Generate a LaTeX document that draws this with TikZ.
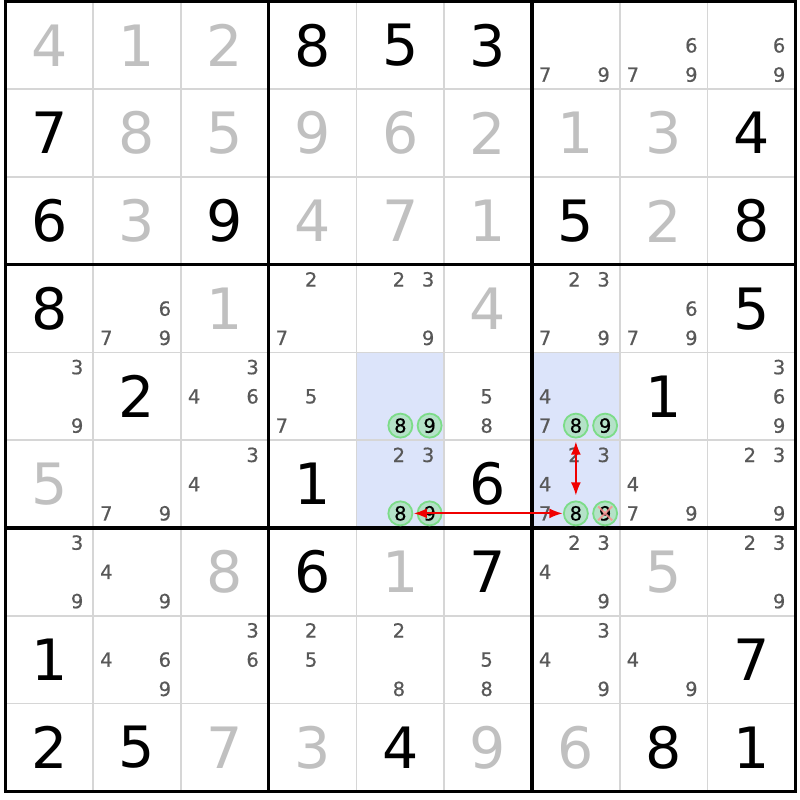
\documentclass[tikz,border=0pt]{standalone}
\usepackage{fontspec}
\setmainfont{DejaVu Sans}
\newfontfamily\pmfont[FakeBold=0.6]{DejaVu Sans}
\usetikzlibrary{arrows.meta}
\definecolor{givenc}{RGB}{0,0,0}
\definecolor{solvedc}{RGB}{192,192,192}
\definecolor{pmc}{RGB}{88,88,88}
\definecolor{hlc}{RGB}{220,228,250}
\definecolor{thinc}{RGB}{214,214,214}
\definecolor{cfill}{RGB}{180,226,200}
\definecolor{cdraw}{RGB}{124,220,136}
\definecolor{arrc}{RGB}{240,0,0}
\newcommand\bigd[4]{\node[bigdigit,text=#4] (b#1#2) at ({5.5+87.75*(#2-0.5)},{1.5+87.75*(#1-0.5)}) {#3};}
\newcommand\pmark[3]{%
  \pgfmathtruncatemacro\prr{int((#3-1)/3)}%
  \pgfmathtruncatemacro\pcc{mod(#3-1,3)}%
  \node[pencil] (p#1#2n#3) at ({5.5+87.75*(#2-1)+29.25*(\pcc+0.5)-1.5},{1.5+87.75*(#1-1)+29.25*(\prr+0.5)}) {#3};}
\newcommand\pms[3]{\foreach \dd in {#3} {\pmark{#1}{#2}{\dd}}}
\newcommand\cand[3]{%
  \pgfmathtruncatemacro\prr{int((#3-1)/3)}%
  \pgfmathtruncatemacro\pcc{mod(#3-1,3)}%
  \node[candc] (c#1#2n#3) at ({5.5+87.75*(#2-1)+29.25*(\pcc+0.5)},{1.5+87.75*(#1-1)+29.25*(\prr+0.5)}) {#3};}
\begin{document}
\begin{tikzpicture}[x=1pt,y=-1pt,
  bigdigit/.style={inner sep=0pt,font=\fontsize{57}{60}\selectfont},
  pencil/.style={inner sep=0pt,text=pmc,font=\pmfont\fontsize{19.5}{22}\selectfont},
  candc/.style={circle,minimum size=24pt,inner sep=0pt,fill=cfill,draw=cdraw,line width=1.8pt,text=black,font=\pmfont\fontsize{19.5}{22}\selectfont},
  thinline/.style={draw=thinc,line width=1.8pt},
  thickline/.style={draw=black,line width=3.2pt},
  hlcell/.style={fill=hlc},
  link/.style={draw=arrc,line width=1.8pt,{Latex[length=13pt,width=10pt]}-{Latex[length=13pt,width=10pt]}}]
\useasboundingbox (0,0) rectangle (800,800);
\fill[white] (0,0) rectangle (800,800);
% highlighted cells
\foreach \r/\c in {5/5,6/5,5/7,6/7}
  \fill[hlcell] ({5.5+87.75*(\c-1)},{1.5+87.75*(\r-1)}) rectangle ({5.5+87.75*\c},{1.5+87.75*\r});
% thin lines
\foreach \i in {1,2,4,5,7,8} {
  \draw[thinline] ({5.5+87.75*\i},1.5) -- ({5.5+87.75*\i},791.25);
  \draw[thinline] (5.5,{1.5+87.75*\i}) -- (795.25,{1.5+87.75*\i});
}
% thick lines
\foreach \i in {0,3,6,9} {
  \draw[thickline] ({5.5+87.75*\i},0) -- ({5.5+87.75*\i},792.85);
  \draw[thickline] (3.9,{1.5+87.75*\i}) -- (796.85,{1.5+87.75*\i});
}
% given digits
\bigd{1}{4}{8}{givenc}\bigd{1}{5}{5}{givenc}\bigd{1}{6}{3}{givenc}
\bigd{2}{1}{7}{givenc}\bigd{2}{9}{4}{givenc}
\bigd{3}{1}{6}{givenc}\bigd{3}{3}{9}{givenc}\bigd{3}{7}{5}{givenc}\bigd{3}{9}{8}{givenc}
\bigd{4}{1}{8}{givenc}\bigd{4}{9}{5}{givenc}
\bigd{5}{2}{2}{givenc}\bigd{5}{8}{1}{givenc}
\bigd{6}{4}{1}{givenc}\bigd{6}{6}{6}{givenc}
\bigd{7}{4}{6}{givenc}\bigd{7}{6}{7}{givenc}
\bigd{8}{1}{1}{givenc}\bigd{8}{9}{7}{givenc}
\bigd{9}{1}{2}{givenc}\bigd{9}{2}{5}{givenc}\bigd{9}{5}{4}{givenc}\bigd{9}{8}{8}{givenc}\bigd{9}{9}{1}{givenc}
% solved digits
\bigd{1}{1}{4}{solvedc}\bigd{1}{2}{1}{solvedc}\bigd{1}{3}{2}{solvedc}
\bigd{2}{2}{8}{solvedc}\bigd{2}{3}{5}{solvedc}\bigd{2}{4}{9}{solvedc}\bigd{2}{5}{6}{solvedc}\bigd{2}{6}{2}{solvedc}\bigd{2}{7}{1}{solvedc}\bigd{2}{8}{3}{solvedc}
\bigd{3}{2}{3}{solvedc}\bigd{3}{4}{4}{solvedc}\bigd{3}{5}{7}{solvedc}\bigd{3}{6}{1}{solvedc}\bigd{3}{8}{2}{solvedc}
\bigd{4}{3}{1}{solvedc}\bigd{4}{6}{4}{solvedc}
\bigd{6}{1}{5}{solvedc}
\bigd{7}{3}{8}{solvedc}\bigd{7}{5}{1}{solvedc}\bigd{7}{8}{5}{solvedc}
\bigd{9}{3}{7}{solvedc}\bigd{9}{4}{3}{solvedc}\bigd{9}{6}{9}{solvedc}\bigd{9}{7}{6}{solvedc}
% pencil marks
\pms{1}{7}{7,9}\pms{1}{8}{6,7,9}\pms{1}{9}{6,9}
\pms{4}{2}{6,7,9}\pms{4}{4}{2,7}\pms{4}{5}{2,3,9}\pms{4}{7}{2,3,7,9}\pms{4}{8}{6,7,9}
\pms{5}{1}{3,9}\pms{5}{3}{3,4,6}\pms{5}{4}{5,7}\pms{5}{6}{5,8}\pms{5}{7}{4,7}\pms{5}{9}{3,6,9}
\pms{6}{2}{7,9}\pms{6}{3}{3,4}\pms{6}{5}{2,3}\pms{6}{7}{2,3,4,7}\pms{6}{8}{4,7,9}\pms{6}{9}{2,3,9}
\pms{7}{1}{3,9}\pms{7}{2}{4,9}\pms{7}{7}{2,3,4,9}\pms{7}{9}{2,3,9}
\pms{8}{2}{4,6,9}\pms{8}{3}{3,6}\pms{8}{4}{2,5}\pms{8}{5}{2,8}\pms{8}{6}{5,8}\pms{8}{7}{3,4,9}\pms{8}{8}{4,9}
% highlighted candidates
\cand{5}{5}{8}\cand{5}{5}{9}
\cand{6}{5}{8}\cand{6}{5}{9}
\cand{5}{7}{8}\cand{5}{7}{9}
\cand{6}{7}{8}\cand{6}{7}{9}
% elimination cross
\draw[draw=red!45,line width=1.8pt,opacity=0.8] ([shift={(-7,-7)}]c67n9.center) -- ([shift={(7,7)}]c67n9.center)
  ([shift={(-7,7)}]c67n9.center) -- ([shift={(7,-7)}]c67n9.center);
% links
\draw[link,shorten <=0.5pt,shorten >=0.5pt] (c67n8) -- (c65n8);
\draw[link,shorten <=3pt,shorten >=5pt] (c57n8) -- (c67n8);
\end{tikzpicture}
\end{document}
